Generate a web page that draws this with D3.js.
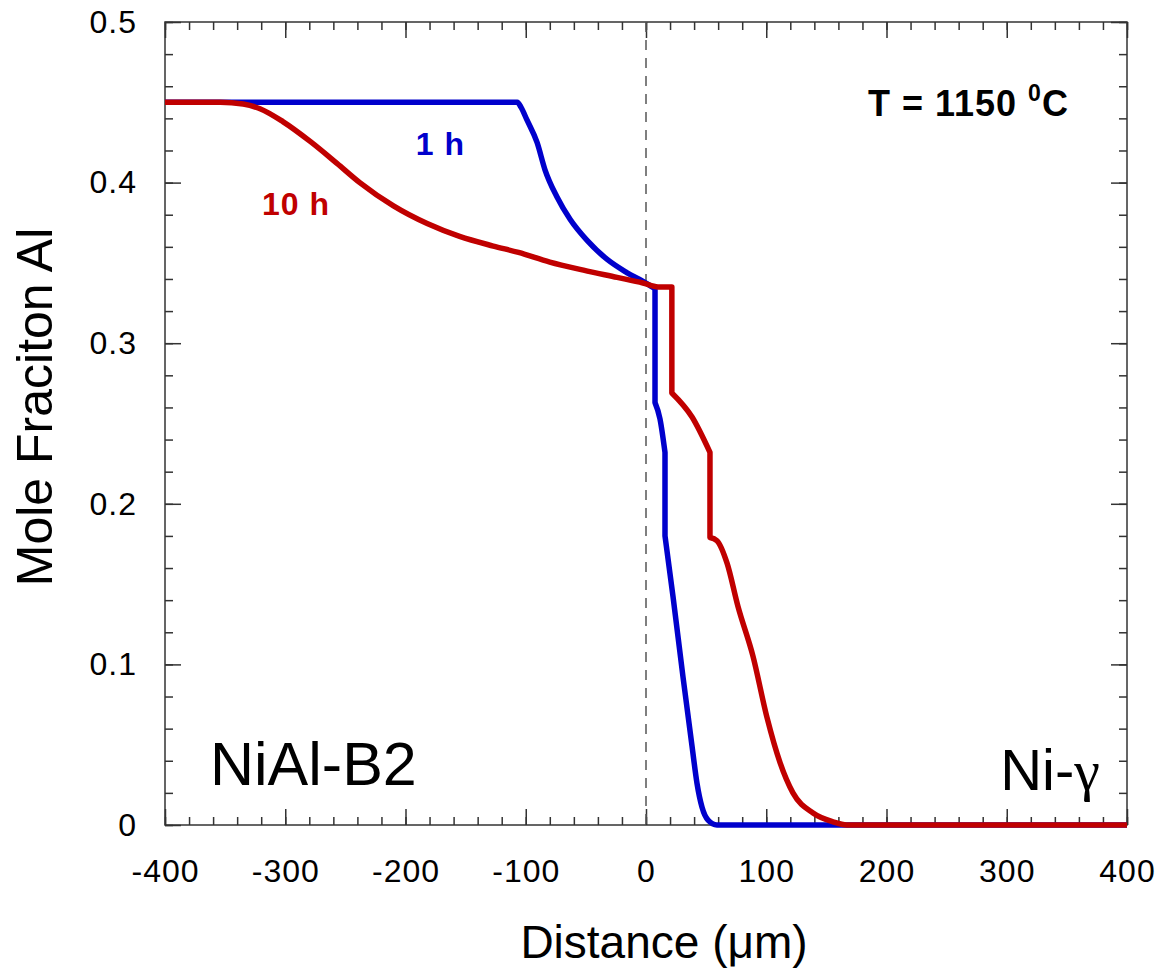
<!DOCTYPE html>
<html>
<head>
<meta charset="utf-8">
<script src="https://cdn.jsdelivr.net/npm/d3@7"></script>
<style>
  body { margin: 0; background: #fff; }
  svg { display: block; font-family: "Liberation Sans", Arial, sans-serif; }
</style>
</head>
<body>
<svg id="chart" width="1160" height="968"></svg>
<script>
// distance (um) and mole fraction Al
var blueX = [-400, -107, -104, -99, -90.6, -84, -74, -63, -49, -32, -16, 1, 5, 7.5, 7.5, 11.6, 15.8, 15.8, 22.5, 30.8, 38.3, 42.4, 46.6, 51.6, 59, 400];
var blueY = [0.45, 0.45, 0.447, 0.439, 0.425, 0.408, 0.391, 0.377, 0.364, 0.352, 0.344, 0.337, 0.335, 0.334, 0.263, 0.253, 0.232, 0.18, 0.142, 0.092, 0.049, 0.026, 0.011, 0.003, 0, 0];

var redX = [-400, -354, -335, -321, -302, -279, -257, -238, -210, -182, -155, -127, -106, -80, -52, -24, -2.5, 10, 21.5, 21.5, 38.3, 53.2, 53.2, 59, 67.4, 76.5, 89, 100.6, 111.4, 122.2, 138.9, 155.5, 167, 400];
var redY = [0.45, 0.45, 0.449, 0.446, 0.438, 0.4255, 0.412, 0.400, 0.3855, 0.3745, 0.3665, 0.3605, 0.3565, 0.3505, 0.3455, 0.341, 0.3375, 0.335, 0.335, 0.269, 0.254, 0.232, 0.179, 0.177, 0.163, 0.136, 0.105, 0.067, 0.039, 0.020, 0.0075, 0.002, 0, 0];

var xTicks = [-400, -300, -200, -100, 0, 100, 200, 300, 400];
var yTicks = [0, 0.1, 0.2, 0.3, 0.4, 0.5];

var svg = d3.select('#chart');
var startx = 165, endx = 1127, starty = 22, endy = 825;

var xscale = d3.scaleLinear()
	.domain([-400, 400])
	.range([startx, endx]);

var yscale = d3.scaleLinear()
	.domain([0, 0.5])
	.range([endy, starty]);

var xMinor = d3.range(-400, 401, 20);
var yMinor = d3.range(0, 51, 2).map(d => d / 100);

var axisColor = '#333';

// minor ticks, all four sides, pointing in
var minorAxes = [
	[d3.axisBottom(xscale).tickValues(xMinor), 'translate(0,' + endy + ')'],
	[d3.axisTop(xscale).tickValues(xMinor), 'translate(0,' + starty + ')'],
	[d3.axisLeft(yscale).tickValues(yMinor), 'translate(' + startx + ',0)'],
	[d3.axisRight(yscale).tickValues(yMinor), 'translate(' + endx + ',0)']
];
minorAxes.forEach(function(a) {
	var g = svg.append('g')
		.attr('transform', a[1])
		.call(a[0].tickSize(-8).tickFormat(''));
	g.select('.domain').remove();
	g.selectAll('line').attr('stroke', axisColor).attr('stroke-width', 1.5);
});

// major ticks
var xaxis = svg.append('g')
	.attr('transform', 'translate(0,' + endy + ')')
	.call(d3.axisBottom(xscale).tickValues(xTicks).tickSize(-16).tickPadding(34).tickFormat(d => String(d)));
var xaxisTop = svg.append('g')
	.attr('transform', 'translate(0,' + starty + ')')
	.call(d3.axisTop(xscale).tickValues(xTicks).tickSize(-16).tickFormat(''));
var yaxis = svg.append('g')
	.attr('transform', 'translate(' + startx + ',0)')
	.call(d3.axisLeft(yscale).tickValues(yTicks).tickSize(-16).tickPadding(28).tickFormat(d => d === 0 ? '0' : d3.format('.1f')(d)));
var yaxisRight = svg.append('g')
	.attr('transform', 'translate(' + endx + ',0)')
	.call(d3.axisRight(yscale).tickValues(yTicks).tickSize(-16).tickFormat(''));

[xaxis, xaxisTop, yaxis, yaxisRight].forEach(function(g) {
	g.select('.domain').remove();
	g.selectAll('line').attr('stroke', axisColor).attr('stroke-width', 1.5);
	g.selectAll('text')
		.attr('fill', '#000')
		.style('font-size', '32px')
		.style('letter-spacing', '1px')
		.style('font-family', '"Liberation Sans", Arial, sans-serif');
});

// frame
svg.append('rect')
	.attr('x', startx)
	.attr('y', starty)
	.attr('width', endx - startx)
	.attr('height', endy - starty)
	.attr('fill', 'none')
	.attr('stroke', axisColor)
	.attr('stroke-width', 1.5);

// interface line at x = 0
svg.append('line')
	.attr('x1', xscale(0))
	.attr('x2', xscale(0))
	.attr('y1', yscale(0.5))
	.attr('y2', yscale(0))
	.attr('stroke', '#555')
	.attr('stroke-width', 1.5)
	.attr('stroke-dasharray', '10,8');

var line = d3.line()
	.x(d => xscale(d[0]))
	.y(d => yscale(d[1]))
	.curve(d3.curveMonotoneX);

// smooth the runs, keep the vertical jumps straight
var profilePath = function(xs, ys) {
	var runs = [];
	var run = [];
	for (var i = 0; i < xs.length; i++) {
		if (i > 0 && xs[i] === xs[i - 1]) {
			runs.push(run);
			run = [];
		}
		run.push([xs[i], ys[i]]);
	}
	runs.push(run);
	return runs.map(function(r, i) {
		var s = line(r);
		return i ? 'L' + s.slice(1) : s;
	}).join('');
}

svg.append('path')
	.attr('d', profilePath(blueX, blueY))
	.attr('fill', 'none')
	.attr('stroke', '#0000cc')
	.attr('stroke-width', 5.5)
	.attr('stroke-linejoin', 'round');

svg.append('path')
	.attr('d', profilePath(redX, redY))
	.attr('fill', 'none')
	.attr('stroke', '#c00000')
	.attr('stroke-width', 5.5)
	.attr('stroke-linejoin', 'round');

// curve labels
svg.append('text')
	.attr('x', xscale(-171))
	.attr('y', yscale(0.417))
	.attr('text-anchor', 'middle')
	.attr('fill', '#0000cc')
	.style('font-size', '32px')
	.style('font-weight', 'bold')
	.style('letter-spacing', '1px')
	.text('1 h');

svg.append('text')
	.attr('x', xscale(-291))
	.attr('y', yscale(0.380))
	.attr('text-anchor', 'middle')
	.attr('fill', '#c00000')
	.style('font-size', '32px')
	.style('font-weight', 'bold')
	.style('letter-spacing', '1px')
	.text('10 h');

var temp = svg.append('text')
	.attr('x', xscale(184.6))
	.attr('y', yscale(0.4415))
	.attr('fill', '#000')
	.style('font-size', '36px')
	.style('font-weight', 'bold')
	.style('letter-spacing', '1px');
temp.append('tspan').text('T = 1150 ');
temp.append('tspan').attr('dy', -15).style('font-size', '23px').text('0');
temp.append('tspan').attr('dy', 15).text('C');

// phase labels
svg.append('text')
	.attr('x', xscale(-362.6))
	.attr('y', yscale(0.025))
	.attr('fill', '#000')
	.style('font-size', '61px')
	.text('NiAl-B2');

var ni = svg.append('text')
	.attr('x', xscale(377.5))
	.attr('y', yscale(0.022))
	.attr('text-anchor', 'end')
	.attr('fill', '#000')
	.style('font-size', '58px');
ni.append('tspan').text('Ni-');
ni.append('tspan').style('font-family', '"Liberation Serif", "DejaVu Serif", serif').text('γ');

// axis titles
svg.append('text')
	.attr('x', 664)
	.attr('y', 958)
	.attr('text-anchor', 'middle')
	.attr('fill', '#000')
	.style('font-size', '46px')
	.text('Distance (μm)');

svg.append('text')
	.attr('transform', 'translate(52,' + 407 + ') rotate(-90)')
	.attr('text-anchor', 'middle')
	.attr('fill', '#000')
	.style('font-size', '50px')
	.text('Mole Fraciton Al');
</script>
</body>
</html>
